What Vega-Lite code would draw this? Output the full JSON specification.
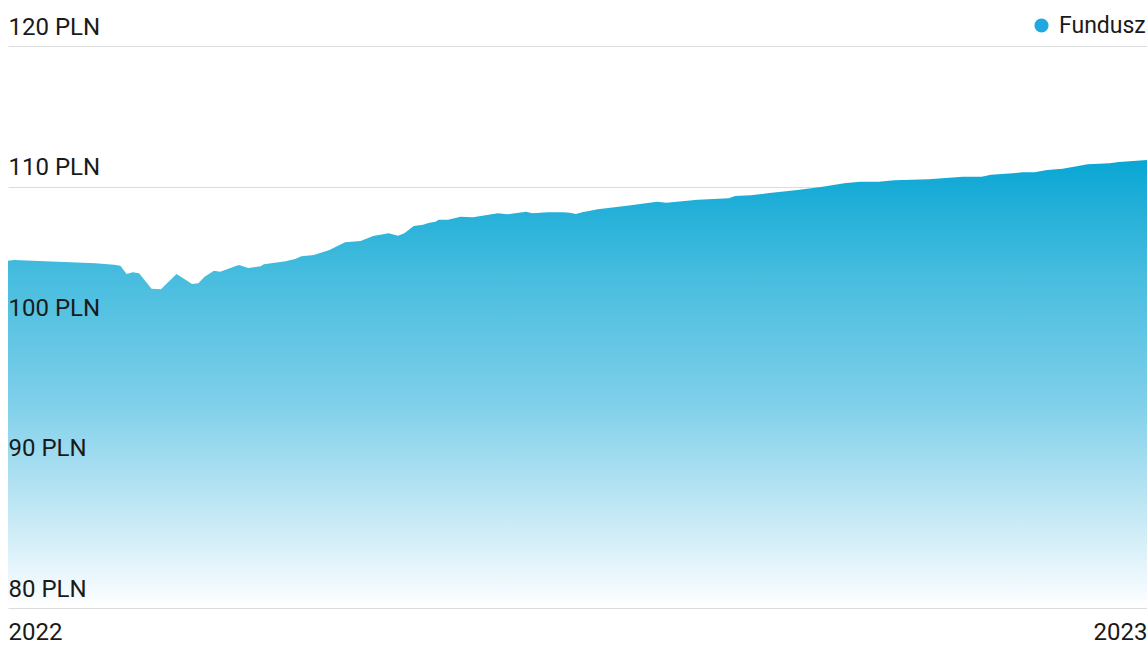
{
  "$schema": "https://vega.github.io/schema/vega-lite/v6.json",
  "width": 1139,
  "height": 562,
  "autosize": {"type": "none"},
  "padding": {"left": 8, "top": 46, "right": 0, "bottom": 38},
  "background": "#ffffff",
  "config": {
    "view": {"stroke": null},
    "font": "Roboto",
    "axis": {"labelFont": "Roboto", "labelFontSize": 24, "labelColor": "#1a1a1a"}
  },
  "data": {
    "values": [
      {"date": "2022-01-01", "value": 104.72},
      {"date": "2022-01-03", "value": 104.77},
      {"date": "2022-01-11", "value": 104.70},
      {"date": "2022-01-21", "value": 104.60},
      {"date": "2022-01-29", "value": 104.53},
      {"date": "2022-02-04", "value": 104.43},
      {"date": "2022-02-06", "value": 104.36},
      {"date": "2022-02-08", "value": 103.77},
      {"date": "2022-02-10", "value": 103.89},
      {"date": "2022-02-12", "value": 103.82},
      {"date": "2022-02-16", "value": 102.73},
      {"date": "2022-02-19", "value": 102.68},
      {"date": "2022-02-24", "value": 103.77},
      {"date": "2022-03-01", "value": 103.06},
      {"date": "2022-03-03", "value": 103.11},
      {"date": "2022-03-05", "value": 103.58},
      {"date": "2022-03-08", "value": 104.00},
      {"date": "2022-03-10", "value": 103.94},
      {"date": "2022-03-15", "value": 104.34},
      {"date": "2022-03-16", "value": 104.41},
      {"date": "2022-03-19", "value": 104.20},
      {"date": "2022-03-23", "value": 104.32},
      {"date": "2022-03-24", "value": 104.46},
      {"date": "2022-03-31", "value": 104.68},
      {"date": "2022-04-03", "value": 104.84},
      {"date": "2022-04-05", "value": 105.03},
      {"date": "2022-04-09", "value": 105.12},
      {"date": "2022-04-14", "value": 105.48},
      {"date": "2022-04-19", "value": 106.03},
      {"date": "2022-04-24", "value": 106.12},
      {"date": "2022-04-28", "value": 106.48},
      {"date": "2022-05-03", "value": 106.67},
      {"date": "2022-05-06", "value": 106.50},
      {"date": "2022-05-08", "value": 106.67},
      {"date": "2022-05-11", "value": 107.19},
      {"date": "2022-05-14", "value": 107.28},
      {"date": "2022-05-16", "value": 107.42},
      {"date": "2022-05-18", "value": 107.49},
      {"date": "2022-05-19", "value": 107.64},
      {"date": "2022-05-22", "value": 107.64},
      {"date": "2022-05-26", "value": 107.85},
      {"date": "2022-05-30", "value": 107.81},
      {"date": "2022-06-04", "value": 107.99},
      {"date": "2022-06-07", "value": 108.09},
      {"date": "2022-06-10", "value": 108.02},
      {"date": "2022-06-16", "value": 108.21},
      {"date": "2022-06-18", "value": 108.09},
      {"date": "2022-06-23", "value": 108.16},
      {"date": "2022-06-28", "value": 108.16},
      {"date": "2022-06-30", "value": 108.14},
      {"date": "2022-07-02", "value": 108.04},
      {"date": "2022-07-04", "value": 108.16},
      {"date": "2022-07-09", "value": 108.38},
      {"date": "2022-07-19", "value": 108.64},
      {"date": "2022-07-28", "value": 108.92},
      {"date": "2022-07-31", "value": 108.85},
      {"date": "2022-08-10", "value": 109.06},
      {"date": "2022-08-20", "value": 109.16},
      {"date": "2022-08-22", "value": 109.32},
      {"date": "2022-08-27", "value": 109.37},
      {"date": "2022-09-02", "value": 109.54},
      {"date": "2022-09-11", "value": 109.75},
      {"date": "2022-09-19", "value": 109.99},
      {"date": "2022-09-26", "value": 110.23},
      {"date": "2022-10-01", "value": 110.33},
      {"date": "2022-10-07", "value": 110.34},
      {"date": "2022-10-12", "value": 110.44},
      {"date": "2022-10-23", "value": 110.51},
      {"date": "2022-11-03", "value": 110.70},
      {"date": "2022-11-09", "value": 110.70},
      {"date": "2022-11-12", "value": 110.84},
      {"date": "2022-11-19", "value": 110.94},
      {"date": "2022-11-22", "value": 111.01},
      {"date": "2022-11-26", "value": 111.01},
      {"date": "2022-11-30", "value": 111.17},
      {"date": "2022-12-05", "value": 111.27},
      {"date": "2022-12-13", "value": 111.58},
      {"date": "2022-12-20", "value": 111.65},
      {"date": "2022-12-23", "value": 111.74},
      {"date": "2023-01-01", "value": 111.89}
    ]
  },
  "resolve": {"axis": {"y": "independent"}},
  "layer": [
    {
      "mark": {
        "type": "area",
        "interpolate": "linear",
        "fill": {
          "gradient": "linear",
          "x1": 0, "y1": 0, "x2": 0, "y2": 1,
          "stops": [
            {"offset": 0, "color": "#09a6d4"},
            {"offset": 0.25, "color": "#45bcde"},
            {"offset": 0.54, "color": "#7ecfea"},
            {"offset": 0.96, "color": "#f3fafd"},
            {"offset": 1, "color": "#ffffff"}
          ]
        }
      },
      "encoding": {
        "x": {
          "field": "date",
          "type": "temporal",
          "scale": {"domain": ["2022-01-01", "2023-01-01"], "nice": false},
          "axis": {
            "title": null,
            "format": "%Y",
            "values": ["2022-01-01", "2023-01-01"],
            "labelFlush": true,
            "domain": false,
            "ticks": false,
            "tickSize": 0,
            "grid": false,
            "labelPadding": 31,
            "labelBaseline": "alphabetic",
            "labelOverlap": false
          }
        },
        "y": {
          "field": "value",
          "type": "quantitative",
          "scale": {"domain": [80, 120], "nice": false, "zero": false},
          "axis": {
            "orient": "left",
            "title": null,
            "values": [80, 90, 100, 110, 120],
            "labels": false,
            "ticks": false,
            "tickSize": 0,
            "domain": false,
            "grid": true,
            "gridColor": "#dcdcdc",
            "gridWidth": 1,
            "zindex": 0
          }
        },
        "y2": {"datum": 80}
      }
    },
    {
      "mark": {"type": "point", "filled": true, "opacity": 0},
      "encoding": {
        "x": {"field": "date", "type": "temporal"},
        "y": {
          "field": "value",
          "type": "quantitative",
          "axis": {
            "orient": "left",
            "title": null,
            "values": [80, 90, 100, 110, 120],
            "labelExpr": "datum.value + ' PLN'",
            "labelAlign": "left",
            "labelBaseline": "alphabetic",
            "labelOffset": -12,
            "labelPadding": 0,
            "ticks": false,
            "tickSize": 0,
            "domain": false,
            "grid": false,
            "zindex": 2
          }
        },
        "color": {
          "datum": "Fundusz",
          "scale": {"range": ["#1ea9e1"]},
          "legend": {
            "title": null,
            "orient": "none",
            "legendX": 1022,
            "legendY": -32,
            "symbolType": "circle",
            "symbolSize": 200,
            "symbolOpacity": 1,
            "symbolStrokeWidth": 0,
            "labelFont": "Roboto",
            "labelFontSize": 23,
            "labelColor": "#1a1a1a",
            "labelOffset": 6
          }
        }
      }
    }
  ]
}
